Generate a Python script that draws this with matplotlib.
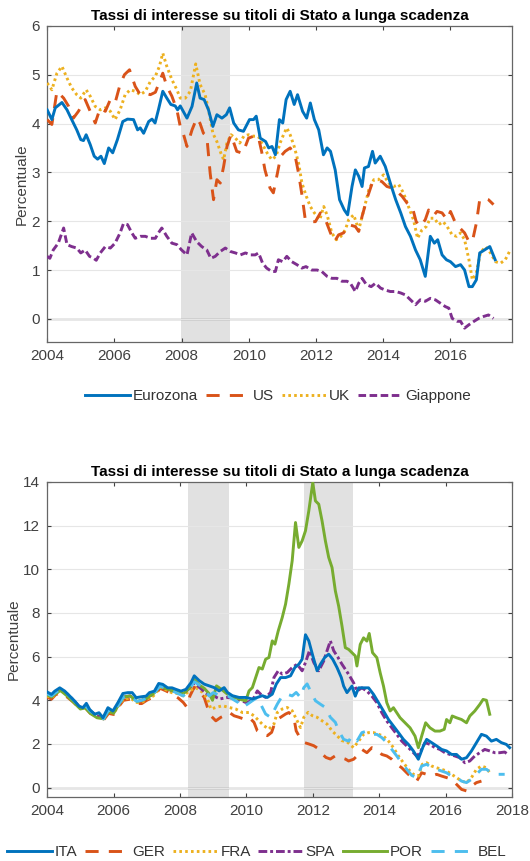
import matplotlib
matplotlib.use("Agg")
import matplotlib.pyplot as plt

plt.rcParams['font.family'] = ['Liberation Sans', 'DejaVu Sans']

# ---- dati grafico in alto: (anno, rendimento %) ----
eurozona = [(2004.0,4.28),(2004.14,4.08),(2004.24,4.32),(2004.44,4.43),(2004.59,4.28),(2004.73,4.08),(2004.88,3.87),(2005.0,3.67),(2005.08,3.65),(2005.16,3.77),(2005.28,3.57),(2005.4,3.33),(2005.5,3.27),(2005.6,3.33),(2005.7,3.18),(2005.83,3.5),(2005.95,3.4),(2006.09,3.67),(2006.25,4.04),(2006.39,4.09),(2006.57,4.08),(2006.69,3.87),(2006.77,3.91),(2006.87,3.8),(2007.02,4.04),(2007.12,4.09),(2007.21,4.01),(2007.31,4.28),(2007.44,4.66),(2007.56,4.52),(2007.68,4.39),(2007.81,4.36),(2007.88,4.28),(2007.96,4.36),(2008.16,4.11),(2008.31,4.35),(2008.45,4.83),(2008.55,4.52),(2008.67,4.49),(2008.8,4.28),(2008.93,3.94),(2009.05,4.18),(2009.2,4.11),(2009.33,4.18),(2009.43,4.32),(2009.55,4.01),(2009.69,3.87),(2009.84,3.84),(2010.02,4.08),(2010.14,4.08),(2010.22,4.15),(2010.34,3.7),(2010.5,3.63),(2010.59,3.5),(2010.69,3.53),(2010.79,3.36),(2010.91,4.08),(2011.01,4.01),(2011.11,4.49),(2011.23,4.66),(2011.35,4.39),(2011.45,4.59),(2011.6,4.25),(2011.72,4.11),(2011.83,4.42),(2011.95,4.08),(2012.08,3.87),(2012.22,3.36),(2012.33,3.5),(2012.43,3.43),(2012.57,3.05),(2012.7,2.44),(2012.84,2.23),(2012.94,2.13),(2013.07,2.71),(2013.17,3.05),(2013.27,2.92),(2013.37,2.71),(2013.44,3.09),(2013.56,3.12),(2013.68,3.43),(2013.76,3.19),(2013.91,3.33),(2014.06,3.12),(2014.21,2.78),(2014.37,2.44),(2014.52,2.17),(2014.66,1.89),(2014.81,1.69),(2014.96,1.41),(2015.1,1.21),(2015.25,0.87),(2015.4,1.69),(2015.52,1.55),(2015.62,1.62),(2015.75,1.31),(2015.88,1.21),(2016.0,1.17),(2016.15,1.07),(2016.3,1.11),(2016.42,1.0),(2016.55,0.66),(2016.65,0.66),(2016.77,0.8),(2016.87,1.35),(2017.01,1.41),(2017.17,1.48),(2017.33,1.21)]

us = [(2004.0,4.08),(2004.14,3.98),(2004.29,4.66),(2004.49,4.52),(2004.64,4.35),(2004.78,4.11),(2004.93,4.25),(2005.13,4.49),(2005.28,4.25),(2005.43,4.01),(2005.58,4.32),(2005.73,4.25),(2005.88,4.49),(2006.02,4.42),(2006.17,4.8),(2006.3,5.0),(2006.45,5.1),(2006.62,4.76),(2006.77,4.59),(2006.92,4.62),(2007.07,4.59),(2007.22,4.64),(2007.31,4.8),(2007.44,5.03),(2007.56,4.76),(2007.71,4.56),(2007.86,4.28),(2007.96,3.94),(2008.06,3.77),(2008.16,3.53),(2008.31,3.87),(2008.45,4.11),(2008.55,4.0),(2008.65,3.8),(2008.75,3.74),(2008.85,2.98),(2008.95,2.44),(2009.05,2.85),(2009.15,2.78),(2009.25,3.12),(2009.35,3.53),(2009.47,3.77),(2009.64,3.43),(2009.82,3.39),(2009.99,3.7),(2010.14,3.74),(2010.28,3.74),(2010.38,3.43),(2010.48,3.05),(2010.63,2.68),(2010.73,2.58),(2010.85,2.98),(2010.95,3.33),(2011.08,3.43),(2011.23,3.5),(2011.38,3.33),(2011.48,2.98),(2011.58,2.54),(2011.68,2.03),(2011.83,1.99),(2011.98,1.99),(2012.13,2.17),(2012.28,2.03),(2012.43,1.76),(2012.55,1.58),(2012.67,1.72),(2012.82,1.76),(2012.97,1.93),(2013.17,1.89),(2013.27,1.79),(2013.37,2.1),(2013.52,2.47),(2013.67,2.78),(2013.82,2.85),(2013.96,2.81),(2014.11,2.71),(2014.26,2.68),(2014.41,2.61),(2014.56,2.51),(2014.71,2.37),(2014.86,2.3),(2014.98,1.99),(2015.1,1.89),(2015.25,2.03),(2015.35,2.23),(2015.48,2.1),(2015.6,2.2),(2015.75,2.17),(2015.9,2.03),(2016.0,2.2),(2016.15,1.96),(2016.28,1.86),(2016.42,1.76),(2016.55,1.58),(2016.65,1.58),(2016.77,1.96),(2016.87,2.44),(2017.01,2.47),(2017.13,2.44),(2017.28,2.34)]

uk = [(2004.0,4.83),(2004.14,4.69),(2004.29,5.03),(2004.44,5.17),(2004.59,4.93),(2004.73,4.73),(2004.88,4.59),(2005.0,4.52),(2005.16,4.69),(2005.28,4.56),(2005.43,4.35),(2005.58,4.28),(2005.73,4.32),(2005.88,4.25),(2006.02,4.08),(2006.17,4.28),(2006.32,4.59),(2006.47,4.69),(2006.62,4.66),(2006.77,4.59),(2006.92,4.66),(2007.07,4.86),(2007.22,4.97),(2007.34,5.17),(2007.44,5.44),(2007.56,5.17),(2007.71,4.9),(2007.86,4.69),(2007.96,4.52),(2008.11,4.52),(2008.26,4.66),(2008.42,5.22),(2008.55,4.8),(2008.7,4.59),(2008.8,4.28),(2008.93,3.8),(2009.05,3.63),(2009.17,3.39),(2009.25,3.26),(2009.35,3.6),(2009.47,3.77),(2009.6,3.7),(2009.73,3.6),(2009.85,3.74),(2009.99,3.77),(2010.14,3.74),(2010.28,3.74),(2010.41,3.57),(2010.55,3.39),(2010.68,3.26),(2010.81,3.33),(2010.93,3.6),(2011.05,3.8),(2011.13,3.91),(2011.23,3.77),(2011.35,3.53),(2011.48,3.19),(2011.58,2.78),(2011.71,2.51),(2011.83,2.3),(2011.95,2.17),(2012.11,2.03),(2012.23,2.3),(2012.34,2.1),(2012.47,1.76),(2012.6,1.62),(2012.74,1.69),(2012.87,1.82),(2012.97,2.03),(2013.12,2.13),(2013.27,1.82),(2013.42,2.23),(2013.57,2.64),(2013.72,2.85),(2013.86,2.85),(2014.01,2.95),(2014.16,2.78),(2014.31,2.71),(2014.46,2.75),(2014.6,2.58),(2014.75,2.3),(2014.9,2.03),(2015.02,1.65),(2015.15,1.82),(2015.28,1.89),(2015.4,2.06),(2015.52,2.06),(2015.65,1.93),(2015.78,1.99),(2015.9,1.89),(2016.05,1.72),(2016.18,1.69),(2016.3,1.76),(2016.42,1.62),(2016.55,1.21),(2016.65,0.8),(2016.77,0.94),(2016.89,1.35),(2017.04,1.48),(2017.19,1.35),(2017.34,1.17),(2017.49,1.14),(2017.63,1.21),(2017.78,1.41)]

giappone = [(2004.0,1.28),(2004.08,1.24),(2004.18,1.41),(2004.33,1.55),(2004.49,1.86),(2004.59,1.52),(2004.73,1.48),(2004.88,1.45),(2005.0,1.35),(2005.13,1.41),(2005.26,1.28),(2005.38,1.24),(2005.46,1.2),(2005.58,1.35),(2005.73,1.48),(2005.88,1.45),(2006.02,1.55),(2006.17,1.76),(2006.27,1.95),(2006.39,1.93),(2006.52,1.76),(2006.62,1.65),(2006.77,1.69),(2006.92,1.69),(2007.07,1.65),(2007.22,1.65),(2007.31,1.76),(2007.41,1.86),(2007.56,1.69),(2007.71,1.55),(2007.86,1.52),(2008.0,1.41),(2008.16,1.31),(2008.3,1.76),(2008.45,1.58),(2008.6,1.48),(2008.75,1.41),(2008.87,1.24),(2009.0,1.28),(2009.15,1.38),(2009.3,1.45),(2009.45,1.38),(2009.6,1.35),(2009.75,1.31),(2009.9,1.35),(2010.04,1.31),(2010.19,1.31),(2010.29,1.35),(2010.41,1.14),(2010.53,1.04),(2010.68,0.97),(2010.79,0.97),(2010.88,1.21),(2011.01,1.17),(2011.13,1.28),(2011.28,1.17),(2011.43,1.11),(2011.58,1.04),(2011.7,1.07),(2011.87,1.0),(2012.03,1.0),(2012.17,0.97),(2012.33,0.87),(2012.47,0.83),(2012.62,0.83),(2012.77,0.77),(2012.92,0.77),(2013.02,0.73),(2013.17,0.56),(2013.27,0.73),(2013.37,0.83),(2013.5,0.7),(2013.64,0.66),(2013.77,0.73),(2013.92,0.63),(2014.06,0.59),(2014.21,0.56),(2014.37,0.56),(2014.52,0.53),(2014.66,0.49),(2014.81,0.39),(2014.96,0.29),(2015.1,0.39),(2015.25,0.36),(2015.4,0.42),(2015.55,0.39),(2015.7,0.32),(2015.85,0.25),(2015.95,0.22),(2016.05,0.01),(2016.2,-0.05),(2016.3,-0.05),(2016.42,-0.19),(2016.55,-0.12),(2016.7,-0.05),(2016.84,0.01),(2016.99,0.05),(2017.13,0.08),(2017.28,0.01)]

# ---- dati grafico in basso ----
ita = [(2004.0,4.38),(2004.13,4.27),(2004.23,4.42),(2004.38,4.57),(2004.53,4.42),(2004.68,4.19),(2004.83,3.96),(2004.96,3.73),(2005.08,3.66),(2005.18,3.86),(2005.28,3.58),(2005.43,3.36),(2005.56,3.43),(2005.68,3.2),(2005.83,3.66),(2005.98,3.51),(2006.13,3.89),(2006.28,4.31),(2006.43,4.35),(2006.56,4.35),(2006.68,4.12),(2006.83,4.16),(2006.98,4.19),(2007.08,4.35),(2007.23,4.42),(2007.36,4.77),(2007.48,4.73),(2007.63,4.57),(2007.76,4.57),(2007.88,4.5),(2008.03,4.42),(2008.18,4.5),(2008.33,4.8),(2008.43,5.12),(2008.58,4.9),(2008.73,4.74),(2008.88,4.66),(2009.03,4.58),(2009.18,4.43),(2009.33,4.58),(2009.43,4.36),(2009.58,4.21),(2009.78,4.13),(2009.98,4.13),(2010.18,4.06),(2010.33,4.13),(2010.48,4.21),(2010.63,4.13),(2010.78,4.28),(2010.9,4.74),(2011.03,5.04),(2011.18,5.04),(2011.33,5.12),(2011.46,5.5),(2011.58,5.65),(2011.68,5.88),(2011.78,7.0),(2011.88,6.72),(2012.0,6.04),(2012.13,5.35),(2012.23,5.65),(2012.36,5.96),(2012.48,6.11),(2012.6,5.88),(2012.73,5.5),(2012.86,5.04),(2012.93,4.65),(2013.03,4.35),(2013.18,4.65),(2013.28,4.19),(2013.38,4.57),(2013.53,4.57),(2013.68,4.57),(2013.83,4.27),(2013.98,3.89),(2014.13,3.51),(2014.28,3.12),(2014.43,2.82),(2014.58,2.52),(2014.73,2.21),(2014.88,1.98),(2015.03,1.68),(2015.18,1.3),(2015.33,1.91),(2015.43,2.21),(2015.58,2.06),(2015.73,1.91),(2015.88,1.75),(2016.03,1.68),(2016.18,1.52),(2016.33,1.52),(2016.48,1.3),(2016.63,1.37),(2016.78,1.68),(2016.93,2.06),(2017.08,2.44),(2017.23,2.36),(2017.38,2.13),(2017.53,2.21),(2017.68,2.06),(2017.83,1.98),(2017.93,1.83)]

ger = [(2004.0,4.15),(2004.13,4.05),(2004.25,4.25),(2004.4,4.35),(2004.6,4.15),(2004.8,3.9),(2005.0,3.6),(2005.15,3.65),(2005.3,3.4),(2005.5,3.25),(2005.7,3.1),(2005.85,3.4),(2006.0,3.35),(2006.15,3.7),(2006.3,4.0),(2006.5,4.05),(2006.7,3.85),(2006.85,3.85),(2007.0,4.0),(2007.2,4.15),(2007.4,4.55),(2007.55,4.45),(2007.75,4.3),(2007.95,4.1),(2008.1,3.9),(2008.2,3.7),(2008.3,4.2),(2008.43,4.6),(2008.58,4.43),(2008.73,4.13),(2008.83,3.67),(2008.93,3.29),(2009.08,3.06),(2009.23,3.22),(2009.33,3.29),(2009.48,3.45),(2009.63,3.29),(2009.78,3.22),(2009.93,3.14),(2010.08,3.22),(2010.23,2.99),(2010.33,2.6),(2010.48,2.45),(2010.63,2.38),(2010.76,2.53),(2010.88,3.06),(2011.03,3.22),(2011.18,3.37),(2011.28,3.44),(2011.43,3.22),(2011.5,2.6),(2011.58,2.38),(2011.73,2.07),(2011.88,2.0),(2012.03,1.92),(2012.18,1.77),(2012.28,1.54),(2012.4,1.38),(2012.53,1.31),(2012.68,1.46),(2012.83,1.38),(2012.98,1.31),(2013.08,1.22),(2013.23,1.3),(2013.33,1.45),(2013.48,1.75),(2013.63,1.6),(2013.78,1.83),(2013.93,1.75),(2014.08,1.52),(2014.23,1.45),(2014.38,1.3),(2014.53,1.07),(2014.68,0.91),(2014.83,0.68),(2014.98,0.46),(2015.13,0.3),(2015.28,0.68),(2015.43,0.61),(2015.58,0.53),(2015.73,0.61),(2015.88,0.53),(2016.03,0.46),(2016.18,0.38),(2016.33,0.15),(2016.48,-0.08),(2016.63,-0.15),(2016.78,0.07),(2016.93,0.23),(2017.08,0.3)]

fra = [(2004.0,4.2),(2004.13,4.1),(2004.25,4.3),(2004.4,4.45),(2004.6,4.25),(2004.8,3.95),(2005.0,3.65),(2005.15,3.7),(2005.3,3.45),(2005.5,3.3),(2005.7,3.15),(2005.85,3.5),(2006.0,3.4),(2006.15,3.75),(2006.3,4.05),(2006.5,4.1),(2006.7,3.9),(2006.85,3.9),(2007.0,4.05),(2007.2,4.2),(2007.4,4.6),(2007.55,4.5),(2007.75,4.35),(2007.95,4.3),(2008.1,4.2),(2008.28,4.43),(2008.48,4.58),(2008.68,4.36),(2008.83,4.06),(2008.93,3.6),(2009.08,3.67),(2009.28,3.75),(2009.48,3.67),(2009.68,3.6),(2009.88,3.44),(2010.08,3.44),(2010.23,3.29),(2010.38,3.06),(2010.53,2.83),(2010.68,2.68),(2010.83,2.91),(2010.93,3.44),(2011.08,3.6),(2011.23,3.67),(2011.38,3.52),(2011.53,3.06),(2011.63,2.75),(2011.73,3.22),(2011.86,3.45),(2011.98,3.3),(2012.13,3.22),(2012.28,3.06),(2012.43,2.91),(2012.58,2.6),(2012.73,2.38),(2012.88,2.15),(2013.03,2.1),(2013.23,1.83),(2013.38,2.13),(2013.53,2.44),(2013.68,2.52),(2013.83,2.52),(2013.98,2.44),(2014.13,2.36),(2014.28,2.13),(2014.43,1.83),(2014.58,1.45),(2014.73,1.14),(2014.88,0.84),(2015.03,0.61),(2015.18,0.53),(2015.3,1.07),(2015.43,1.14),(2015.58,0.99),(2015.73,0.91),(2015.88,0.84),(2016.03,0.76),(2016.18,0.61),(2016.33,0.46),(2016.48,0.3),(2016.63,0.23),(2016.78,0.46),(2016.93,0.84),(2017.08,0.99),(2017.23,0.91),(2017.33,0.68)]

spa = [(2004.0,4.3),(2004.13,4.2),(2004.25,4.35),(2004.4,4.5),(2004.6,4.3),(2004.8,4.0),(2005.0,3.65),(2005.15,3.75),(2005.3,3.5),(2005.5,3.3),(2005.7,3.15),(2005.85,3.55),(2006.0,3.45),(2006.15,3.8),(2006.3,4.15),(2006.5,4.2),(2006.7,4.0),(2006.85,4.0),(2007.0,4.1),(2007.2,4.3),(2007.4,4.65),(2007.55,4.55),(2007.75,4.45),(2007.95,4.35),(2008.1,4.3),(2008.28,4.55),(2008.43,4.8),(2008.58,4.6),(2008.73,4.4),(2008.88,4.2),(2009.0,4.28),(2009.1,4.13),(2009.2,4.06),(2009.43,4.13),(2009.73,4.06),(2009.98,3.9),(2010.18,3.98),(2010.33,4.43),(2010.43,4.28),(2010.58,4.13),(2010.73,4.36),(2010.83,5.04),(2010.96,5.35),(2011.08,5.2),(2011.23,5.27),(2011.38,5.5),(2011.53,5.65),(2011.68,5.35),(2011.78,5.73),(2011.9,6.27),(2012.03,5.73),(2012.18,5.35),(2012.33,5.8),(2012.43,6.27),(2012.53,6.72),(2012.63,6.27),(2012.76,5.96),(2012.88,5.65),(2013.08,5.19),(2013.23,4.8),(2013.33,4.42),(2013.48,4.57),(2013.63,4.42),(2013.78,4.19),(2013.93,3.89),(2014.08,3.43),(2014.23,3.05),(2014.38,2.74),(2014.53,2.44),(2014.68,2.13),(2014.83,1.91),(2014.98,1.68),(2015.13,1.45),(2015.23,1.6),(2015.38,2.06),(2015.53,1.98),(2015.68,1.83),(2015.83,1.75),(2015.98,1.6),(2016.13,1.52),(2016.28,1.45),(2016.43,1.37),(2016.58,1.14),(2016.73,1.22),(2016.88,1.45),(2017.03,1.6),(2017.18,1.75),(2017.33,1.68),(2017.48,1.6),(2017.63,1.6),(2017.78,1.63),(2017.88,1.52)]

por = [(2004.0,4.25),(2004.13,4.15),(2004.25,4.3),(2004.4,4.45),(2004.6,4.2),(2004.8,3.9),(2005.0,3.6),(2005.15,3.65),(2005.3,3.4),(2005.5,3.2),(2005.7,3.15),(2005.85,3.5),(2006.0,3.4),(2006.15,3.8),(2006.3,4.15),(2006.5,4.2),(2006.7,3.95),(2006.85,4.0),(2007.0,4.1),(2007.2,4.3),(2007.4,4.65),(2007.55,4.55),(2007.75,4.45),(2007.95,4.35),(2008.1,4.3),(2008.28,4.55),(2008.43,4.95),(2008.58,4.7),(2008.73,4.55),(2008.88,4.3),(2008.98,4.0),(2009.1,4.66),(2009.25,4.5),(2009.43,4.28),(2009.6,4.15),(2009.78,4.06),(2009.98,3.97),(2010.08,4.43),(2010.18,4.58),(2010.28,5.04),(2010.38,5.5),(2010.48,5.43),(2010.58,5.88),(2010.68,5.96),(2010.78,6.72),(2010.86,6.57),(2010.96,7.18),(2011.08,7.79),(2011.18,8.4),(2011.28,9.32),(2011.38,10.39),(2011.48,12.14),(2011.58,11.0),(2011.68,11.3),(2011.78,11.76),(2011.88,12.67),(2012.0,13.97),(2012.08,13.13),(2012.18,12.98),(2012.28,12.21),(2012.38,11.3),(2012.48,10.54),(2012.58,10.08),(2012.68,9.01),(2012.78,8.31),(2012.88,7.4),(2012.98,6.41),(2013.08,6.33),(2013.18,6.18),(2013.28,6.03),(2013.33,5.57),(2013.43,6.56),(2013.53,6.86),(2013.63,6.71),(2013.7,7.06),(2013.8,6.18),(2013.93,5.95),(2014.03,5.26),(2014.13,4.65),(2014.23,3.89),(2014.33,3.51),(2014.43,3.66),(2014.53,3.43),(2014.63,3.2),(2014.78,2.97),(2014.93,2.74),(2015.08,2.36),(2015.18,1.83),(2015.28,2.36),(2015.4,2.97),(2015.53,2.74),(2015.68,2.59),(2015.83,2.59),(2015.96,2.67),(2016.03,3.12),(2016.13,2.97),(2016.2,3.28),(2016.33,3.2),(2016.48,3.12),(2016.63,2.97),(2016.73,3.28),(2016.88,3.51),(2017.03,3.81),(2017.13,4.04),(2017.23,4.0),(2017.33,3.36)]

bel = [(2004.0,4.3),(2004.13,4.2),(2004.25,4.35),(2004.4,4.5),(2004.6,4.3),(2004.8,4.0),(2005.0,3.65),(2005.15,3.75),(2005.3,3.5),(2005.5,3.3),(2005.7,3.15),(2005.85,3.55),(2006.0,3.45),(2006.15,3.8),(2006.3,4.15),(2006.5,4.2),(2006.7,3.95),(2006.85,4.0),(2007.0,4.1),(2007.2,4.3),(2007.4,4.65),(2007.55,4.55),(2007.75,4.45),(2007.95,4.3),(2008.1,4.2),(2008.28,4.5),(2008.43,4.85),(2008.58,4.7),(2008.73,4.5),(2008.88,4.2),(2009.0,4.35),(2009.15,4.25),(2009.3,4.2),(2009.45,4.2),(2009.58,4.06),(2009.75,3.9),(2009.88,3.67),(2010.03,3.82),(2010.18,3.98),(2010.33,4.13),(2010.48,3.67),(2010.58,3.37),(2010.73,3.22),(2010.83,3.52),(2010.93,3.82),(2011.08,4.2),(2011.23,4.28),(2011.38,4.2),(2011.5,4.36),(2011.63,4.13),(2011.73,4.58),(2011.83,4.75),(2011.93,4.43),(2012.08,3.98),(2012.23,3.82),(2012.38,3.67),(2012.53,3.22),(2012.68,2.99),(2012.78,2.6),(2012.93,2.21),(2013.08,2.13),(2013.18,2.36),(2013.33,2.13),(2013.48,2.52),(2013.63,2.59),(2013.78,2.44),(2013.93,2.44),(2014.08,2.29),(2014.23,2.06),(2014.38,1.75),(2014.53,1.45),(2014.68,1.14),(2014.83,0.84),(2014.98,0.56),(2015.13,0.46),(2015.28,0.99),(2015.43,1.07),(2015.58,0.91),(2015.73,0.84),(2015.88,0.76),(2016.03,0.68),(2016.18,0.53),(2016.33,0.46),(2016.48,0.3),(2016.63,0.23),(2016.78,0.38),(2016.93,0.61),(2017.08,0.84),(2017.23,0.84),(2017.38,0.68),(2017.53,0.61),(2017.78,0.61)]

# periodi di recessione (bande grigie)
shade_top = [(2007.98, 2009.45)]
shade_bottom = [(2008.23, 2009.48), (2011.73, 2013.2)]

titolo = 'Tassi di interesse su titoli di Stato a lunga scadenza'

BLUE = '#0072BD'
ORANGE = '#D95319'
YELLOW = '#EDB120'
PURPLE = '#7E2F8E'
GREEN = '#77AC30'
LBLUE = '#4DBEEE'


def xy(serie):
    return [p[0] for p in serie], [p[1] for p in serie]


def style_ax(ax, xlim, ylim, yticks, xticks, shades):
    for a, b in shades:
        ax.axvspan(a, b, color='#e1e1e1', lw=0, zorder=0)
    ax.set_xlim(*xlim)
    ax.set_ylim(*ylim)
    ax.set_yticks(yticks)
    ax.set_xticks(xticks)
    ax.set_xticklabels([str(t) for t in xticks])
    ax.grid(axis='y', color='#e6e6e6', lw=0.8, zorder=0.5)
    ax.axhline(0, color='#555555', lw=0.9, zorder=1)
    ax.tick_params(direction='in', top=True, right=True, length=3,
                   labelsize=11, colors='#404040', pad=5)
    for s in ax.spines.values():
        s.set_color('#666666')
        s.set_linewidth(0.9)
    ax.set_ylabel('Percentuale', fontsize=11, color='#404040', labelpad=2)
    ax.set_title(titolo, fontsize=11, fontweight='bold', pad=4)


fig = plt.figure(figsize=(5.3, 8.61), dpi=100)

# ---- grafico in alto ----
ax1 = fig.add_axes([0.089, 0.603, 0.877, 0.367])
style_ax(ax1, (2004, 2017.83), (-0.47, 6), range(0, 7),
         [2004, 2006, 2008, 2010, 2012, 2014, 2016], shade_top)
x, y = xy(eurozona)
ax1.plot(x, y, color=BLUE, lw=2.1, label='Eurozona', zorder=5)
x, y = xy(us)
ax1.plot(x, y, color=ORANGE, lw=2.1, dashes=(4.5, 3.5), label='US', zorder=4)
x, y = xy(uk)
ax1.plot(x, y, color=YELLOW, lw=2.1, dashes=(0.9, 1.1), label='UK', zorder=3)
x, y = xy(giappone)
ax1.plot(x, y, color=PURPLE, lw=2.1, dashes=(2.6, 1.2), label='Giappone', zorder=3)
ax1.legend(loc='center', bbox_to_anchor=(0.525, 1 - 396 / 861), bbox_transform=fig.transFigure,
           ncol=4, frameon=False, fontsize=11, handlelength=2.9, handletextpad=0.2,
           columnspacing=0.5, labelcolor='#333333')

# ---- grafico in basso ----
ax2 = fig.add_axes([0.089, 0.0743, 0.877, 0.366])
style_ax(ax2, (2004, 2018), (-0.43, 14), range(0, 15, 2),
         [2004, 2006, 2008, 2010, 2012, 2014, 2016, 2018], shade_bottom)
x, y = xy(ger)
ax2.plot(x, y, color=ORANGE, lw=2.1, dashes=(4.5, 3.5), label='GER', zorder=3)
x, y = xy(fra)
ax2.plot(x, y, color=YELLOW, lw=2.1, dashes=(0.9, 1.1), label='FRA', zorder=3)
x, y = xy(spa)
ax2.plot(x, y, color=PURPLE, lw=2.1, dashes=(3, 1, 1, 1), label='SPA', zorder=3)
x, y = xy(por)
ax2.plot(x, y, color=GREEN, lw=2.1, label='POR', zorder=3)
x, y = xy(bel)
ax2.plot(x, y, color=LBLUE, lw=2.1, dashes=(4.5, 3.5), label='BEL', zorder=4)
x, y = xy(ita)
ax2.plot(x, y, color=BLUE, lw=2.1, label='ITA', zorder=5)

h, l = ax2.get_legend_handles_labels()
order = ['ITA', 'GER', 'FRA', 'SPA', 'POR', 'BEL']
hh = [h[l.index(k)] for k in order]
ax2.legend(hh, order, loc='center', bbox_to_anchor=(0.485, 1 - 852 / 861),
           bbox_transform=fig.transFigure, ncol=6, frameon=False, fontsize=11,
           handlelength=2.9, handletextpad=0.2, columnspacing=0.5, labelcolor='#333333')

fig.savefig('out.png', dpi=100)
